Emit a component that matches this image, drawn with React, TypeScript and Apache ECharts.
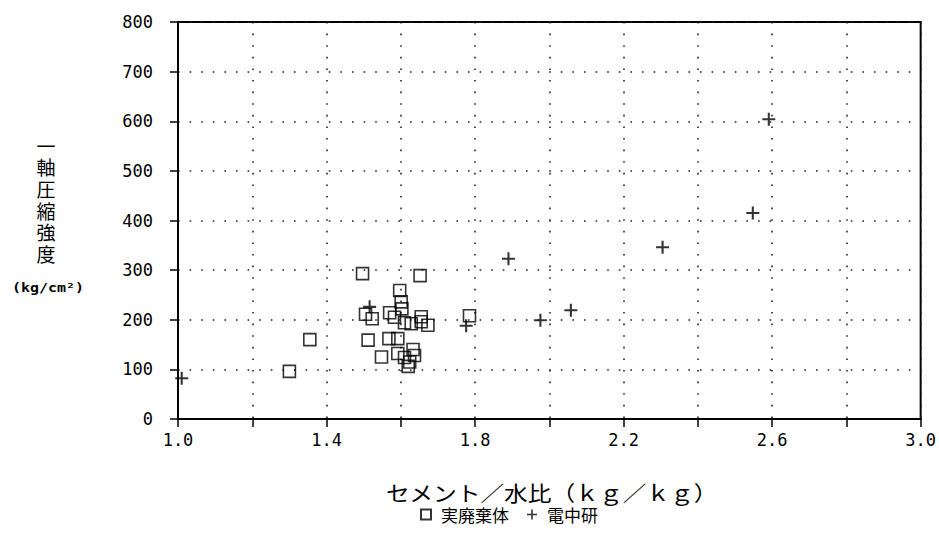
import React, { useEffect, useRef } from "react";
import * as echarts from "echarts";

// 実廃棄体 (squares)
const wasteX = [1.30, 1.355, 1.497, 1.652, 1.505, 1.523, 1.512, 1.548, 1.597, 1.601, 1.603, 1.570, 1.583, 1.568, 1.592, 1.610, 1.628, 1.655, 1.673, 1.655, 1.592, 1.610, 1.633, 1.637, 1.624, 1.620, 1.785];
const wasteY = [96, 160, 293, 289, 211, 202, 159, 125, 259, 236, 222, 214, 205, 162, 162, 194, 192, 196, 189, 206, 132, 124, 140, 128, 115, 106, 208];

// 電中研 (pluses)
const denX = [1.01, 1.516, 1.776, 1.890, 1.976, 2.058, 2.305, 2.548, 2.591];
const denY = [82, 226, 188, 323, 199, 219, 346, 415, 604];

const seriesNames = ["実廃棄体", "電中研"];
const xAxisName = "セメント／水比（ｋｇ／ｋｇ）";
const yAxisNameChars = ["一", "軸", "圧", "縮", "強", "度"];
const yAxisUnit = "(kg/cm²)";

const PLUS = "path://M4.2,0H5.8V4.2H10V5.8H5.8V10H4.2V5.8H0V4.2H4.2Z";
const MONO = "'DejaVu Sans Mono', 'Liberation Mono', monospace";
const JP = "'Noto Sans CJK JP', sans-serif";

export default function App() {
  const ref = useRef<HTMLDivElement>(null);
  useEffect(() => {
    if (!ref.current) return;
    const chart = echarts.init(ref.current, null, { renderer: "svg" });
    const waste = wasteX.map((x, i) => [x, wasteY[i]]);
    const den = denX.map((x, i) => [x, denY[i]]);
    const dotted = { color: "#222", width: 1.6, type: [1.6, 10] as any };
    const yNameTexts = yAxisNameChars.map((ch, i) => ({
      type: "text",
      x: 46,
      y: 145 + i * 21.7,
      style: {
        text: ch,
        font: `19px ${JP}`,
        lineHeight: 20,
        fill: "#000",
        align: "center",
        verticalAlign: "middle",
      },
    }));
    chart.setOption({
      animation: false,
      backgroundColor: "#fff",
      grid: {
        left: 178,
        right: 17,
        top: 22,
        bottom: 115,
        show: true,
        borderColor: "#000",
        borderWidth: 2,
        backgroundColor: "transparent",
      },
      xAxis: {
        type: "value",
        min: 1,
        max: 3,
        interval: 0.2,
        axisLine: { lineStyle: { color: "#000", width: 2 } },
        axisTick: { length: 8, lineStyle: { color: "#000", width: 1.5 } },
        splitLine: { show: true, lineStyle: dotted },
        axisLabel: {
          margin: 12,
          color: "#000",
          fontFamily: MONO,
          fontSize: 17,
          formatter: (v: number) => (Math.round(v * 10) % 4 === 2 ? v.toFixed(1) : ""),
        },
      },
      yAxis: {
        type: "value",
        min: 0,
        max: 800,
        interval: 100,
        axisLine: { lineStyle: { color: "#000", width: 2 } },
        axisTick: { length: 8, lineStyle: { color: "#000", width: 1.5 } },
        splitLine: { show: true, lineStyle: dotted },
        axisLabel: {
          margin: 25,
          color: "#000",
          fontFamily: MONO,
          fontSize: 17,
        },
      },
      legend: {
        left: 415,
        top: 501,
        itemWidth: 10,
        itemHeight: 10,
        itemGap: 18,
        textStyle: { fontFamily: JP, fontSize: 17, color: "#000", padding: [0, 0, 0, 5] },
        data: seriesNames,
      },
      graphic: [
        ...yNameTexts,
        {
          type: "text",
          left: 12,
          top: 281,
          scaleX: 1.15,
          style: {
            text: yAxisUnit,
            font: `bold 13px ${MONO}`,
            fill: "#000",
          },
        },
        {
          type: "text",
          x: 386,
          y: 481,
          scaleX: 1.13,
          style: {
            text: xAxisName,
            font: `21px ${JP}`,
            fill: "#000",
          },
        },
      ],
      series: [
        {
          name: seriesNames[0],
          type: "scatter",
          symbol: "rect",
          symbolSize: 12,
          itemStyle: { color: "transparent", borderColor: "#000", borderWidth: 1.6 },
          data: waste,
        },
        {
          name: seriesNames[1],
          type: "scatter",
          symbol: PLUS,
          symbolSize: 13,
          itemStyle: { color: "#000" },
          data: den,
        },
      ],
    });
    return () => chart.dispose();
  }, []);
  return (
    <div
      ref={ref}
      style={{ position: "absolute", left: 0, top: 0, width: 939, height: 534 }}
    />
  );
}
